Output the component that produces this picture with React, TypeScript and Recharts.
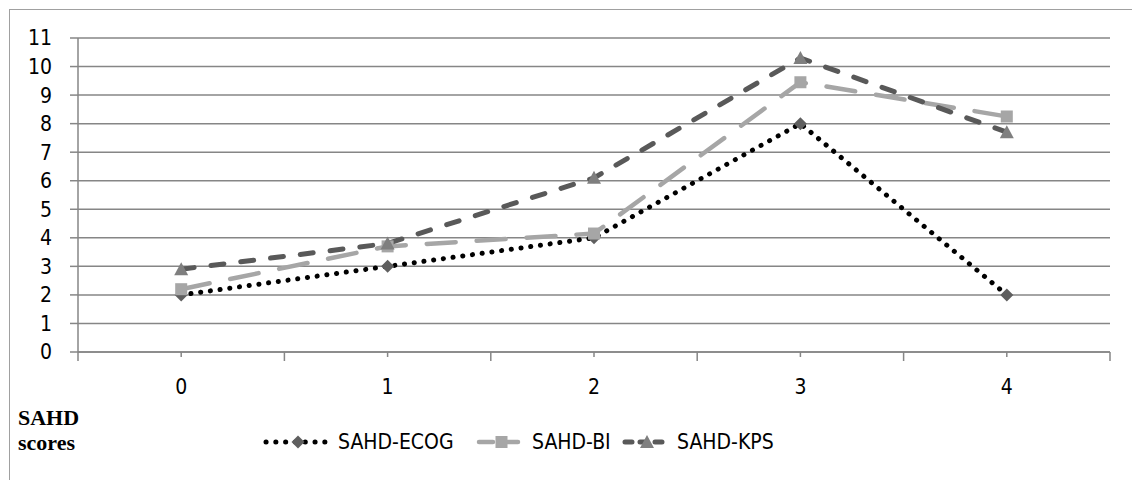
import React from "react";
import { LineChart, Line, XAxis, YAxis, CartesianGrid } from "recharts";

// SAHD scores on the x axis, one value per score and series
const scores = [0, 1, 2, 3, 4];
const ecog = [2, 3, 4, 8, 2];
const bi = [2.2, 3.7, 4.15, 9.45, 8.25];
const kps = [2.9, 3.8, 6.1, 10.3, 7.7];
const yTicks = [0, 1, 2, 3, 4, 5, 6, 7, 8, 9, 10, 11];
const xTicks = [-0.5, 0, 0.5, 1, 1.5, 2, 2.5, 3, 3.5, 4, 4.5];

const data = scores.map((s, i) => ({ score: s, ecog: ecog[i], bi: bi[i], kps: kps[i] }));

const FONT = '"Liberation Sans Narrow", "DejaVu Sans Condensed", "Liberation Sans", sans-serif';
const AXIS = "#868686";

function Diamond({ cx, cy, size = 6.5 }: { cx: number; cy: number; size?: number }) {
  return <path d={`M${cx},${cy - size}L${cx + size},${cy}L${cx},${cy + size}L${cx - size},${cy}Z`} fill="#5f5f5f" />;
}
function Square({ cx, cy, size = 6 }: { cx: number; cy: number; size?: number }) {
  return <rect x={cx - size} y={cy - size} width={size * 2} height={size * 2} fill="#a6a6a6" />;
}
function Triangle({ cx, cy, size = 7 }: { cx: number; cy: number; size?: number }) {
  return <path d={`M${cx},${cy - size}L${cx + size},${cy + size * 0.85}L${cx - size},${cy + size * 0.85}Z`} fill="#7f7f7f" />;
}

const series = [
  { key: "ecog", name: "SAHD-ECOG", stroke: "#000", width: 5, dash: "0.1 9.7", legendDash: "0.1 9.7", Marker: Diamond, legendX: 263, legendW: 70 },
  { key: "bi", name: "SAHD-BI", stroke: "#a6a6a6", width: 4.5, dash: "29 21", legendDash: "14 11", Marker: Square, legendX: 476, legendW: 51 },
  { key: "kps", name: "SAHD-KPS", stroke: "#595959", width: 5, dash: "13 17", legendDash: "7 8", Marker: Triangle, legendX: 622, legendW: 50 },
];

function XTick(props: any) {
  const { x, y, payload } = props;
  const v = payload.value;
  const center = Number.isInteger(v);
  return (
    <g>
      <line x1={x} x2={x} y1={y} y2={y + (center ? 5 : 9)} stroke={AXIS} strokeWidth={1.5} />
      {center && (
        <text x={x} y={y + 36} textAnchor="middle" dominantBaseline="middle" fontSize={21} fontFamily={FONT} fill="#000">
          {v}
        </text>
      )}
    </g>
  );
}

export default function App() {
  return (
    <div style={{ position: "absolute", left: 0, top: 0, width: 1132, height: 480, background: "#fff", overflow: "hidden" }}>
      <div
        style={{
          position: "absolute",
          left: 9,
          top: 9,
          width: 1140,
          height: 480,
          borderLeft: "1.5px solid #a0a0a0",
          borderTop: "1.5px solid #a0a0a0",
        }}
      />
      <LineChart width={1132} height={480} data={data} margin={{ top: 38, right: 22, left: 0, bottom: 0 }}>
        <CartesianGrid vertical={false} stroke={AXIS} strokeWidth={1.5} />
        <XAxis
          dataKey="score"
          type="number"
          domain={[-0.5, 4.5]}
          ticks={xTicks}
          interval={0}
          height={128}
          tickSize={0}
          tickMargin={0}
          tickLine={false}
          axisLine={{ stroke: AXIS, strokeWidth: 1.5 }}
          tick={<XTick />}
        />
        <YAxis
          width={78}
          domain={[0, 11]}
          ticks={yTicks}
          interval={0}
          tickSize={8}
          tickMargin={18}
          axisLine={{ stroke: AXIS, strokeWidth: 1.5 }}
          tickLine={{ stroke: AXIS, strokeWidth: 1.5 }}
          tick={{ fontSize: 21, fontFamily: FONT, fill: "#000" }}
        />
        {series.map((s) => (
          <Line
            key={s.key}
            type="linear"
            dataKey={s.key}
            name={s.name}
            stroke={s.stroke}
            strokeWidth={s.width}
            strokeDasharray={s.dash}
            strokeLinecap="round"
            isAnimationActive={false}
            dot={(p: any) => <s.Marker key={`${s.key}-${p.index}`} cx={p.cx} cy={p.cy} />}
            activeDot={false}
          />
        ))}
      </LineChart>
      <div
        style={{
          position: "absolute",
          left: 18,
          top: 405,
          fontFamily: '"Liberation Serif", serif',
          fontWeight: "bold",
          fontSize: 22,
          lineHeight: "25px",
          color: "#000",
        }}
      >
        SAHD
        <br />
        scores
      </div>
      {series.map((s) => (
        <div key={s.key} style={{ position: "absolute", left: s.legendX, top: 428, height: 28, display: "flex", alignItems: "center" }}>
          <svg width={s.legendW} height={28}>
            <line
              x1={3}
              x2={s.legendW - 3}
              y1={14}
              y2={14}
              stroke={s.stroke}
              strokeWidth={s.width}
              strokeDasharray={s.legendDash}
              strokeLinecap="round"
            />
            <s.Marker cx={s.legendW / 2} cy={14} />
          </svg>
          <span style={{ fontFamily: FONT, fontSize: 21, color: "#000", marginLeft: 5 }}>{s.name}</span>
        </div>
      ))}
    </div>
  );
}
